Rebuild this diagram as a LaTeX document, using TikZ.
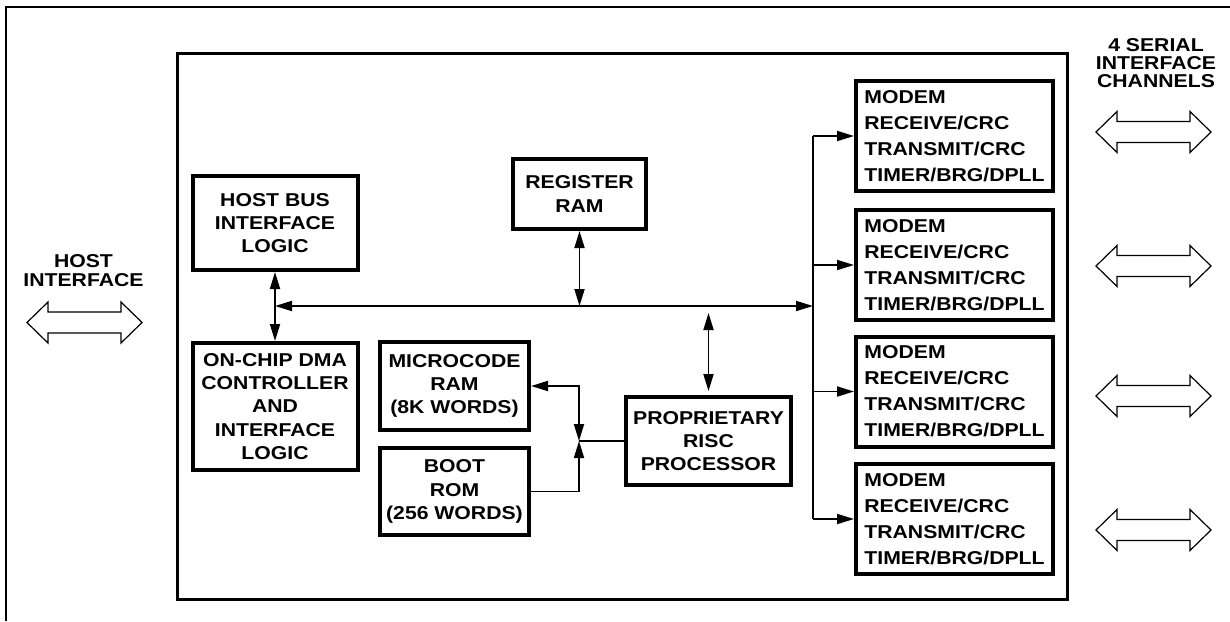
\documentclass[tikz,border=0pt]{standalone}
\usepackage{fontspec}
\setmainfont{Liberation Sans}[FakeStretch=1.14]
\usetikzlibrary{arrows.meta,calc}
\begin{document}
\begin{tikzpicture}[x=0.5pt,y=-0.5pt,
  >={Triangle[length=8.5pt,width=5pt]},
  blk/.style={draw, line width=2pt, inner sep=0pt, align=center,
    font=\fontsize{9.3}{11.6}\selectfont\bfseries},
  mdm/.style={blk, align=left, minimum width=98.5pt, minimum height=55pt,
    font=\fontsize{9.3}{13}\selectfont\bfseries},
  lbl/.style={inner sep=0pt, align=center, font=\fontsize{9.3}{9.2}\selectfont\bfseries},
  conn/.style={line width=0.9pt},
  harrow/.pic={\draw[line width=0.6pt] (-57.5,0) -- ++(21,-20.5) -- ++(0,10) -- ++(73,0) -- ++(0,-10) -- ++(21,20.5) -- ++(-21,20.5) -- ++(0,-10) -- ++(-73,0) -- ++(0,10) -- cycle;}
]
\useasboundingbox (0,0) rectangle (1230,621);
% outer frame
\draw[line width=1pt] (6,621) -- (6,7) -- (1230,7);
% chip
\draw[line width=1.5pt] (177.5,53.5) rectangle (1067.5,599.5);

% blocks
\node[blk, minimum width=82.5pt, minimum height=47pt] (hbil) at (275,223) {HOST BUS\\INTERFACE\\LOGIC};
\node[blk, minimum width=82.5pt, minimum height=63.5pt] (dma) at (275,406.5) {ON-CHIP DMA\\CONTROLLER\\AND\\INTERFACE\\LOGIC};
\node[blk, minimum width=66.5pt, minimum height=35pt] (reg) at (579.5,194) {REGISTER\\RAM};
\node[blk, minimum width=74.5pt, minimum height=44pt] (micro) at (454.5,386) {MICROCODE\\RAM\\(8K WORDS)};
\node[blk, minimum width=74.5pt, minimum height=43.5pt] (boot) at (454.5,491.5) {BOOT\\ROM\\(256 WORDS)};
\node[blk, minimum width=82.5pt, minimum height=44pt] (proc) at (708.5,441) {PROPRIETARY\\RISC\\PROCESSOR};

\node[mdm] (m1) at (954.5,136) {MODEM\\RECEIVE/CRC\\TRANSMIT/CRC\\TIMER/BRG/DPLL};
\node[mdm] (m2) at (954.5,265) {MODEM\\RECEIVE/CRC\\TRANSMIT/CRC\\TIMER/BRG/DPLL};
\node[mdm] (m3) at (954.5,391.5) {MODEM\\RECEIVE/CRC\\TRANSMIT/CRC\\TIMER/BRG/DPLL};
\node[mdm] (m4) at (954.5,519) {MODEM\\RECEIVE/CRC\\TRANSMIT/CRC\\TIMER/BRG/DPLL};

% labels
\node[lbl] (hostlbl) at (83.5,270.5) {HOST\\INTERFACE};
\node[lbl] (serlbl) at (1156,63) {4 SERIAL\\INTERFACE\\CHANNELS};

% hollow double arrows
\pic at (84.5,322.5) {harrow};
\pic at (1153.5,132) {harrow};
\pic at (1153.5,266) {harrow};
\pic at (1153.5,396) {harrow};
\pic at (1153.5,530) {harrow};

% connectors
\coordinate (busL) at (275,306);
\coordinate (busR) at (813,306);
\coordinate (J) at (579,441);
\draw[conn,<->] (hbil.south) -- (dma.north);
\draw[conn,<->] (busR) -- (busL);
\draw[conn,<->] (reg.south) -- (reg.south |- busL);
\draw[conn,<->] ($(proc.north)+(0,-4)$) -- ($(proc.north |- busL)+(0,7)$);
\draw[conn] (m1.west -| busR) -- (m4.west -| busR);
\draw[conn,->] (m1.west -| busR) -- (m1.west);
\draw[conn,->] (m2.west -| busR) -- (m2.west);
\draw[conn,->] (m3.west -| busR) -- (m3.west);
\draw[conn,->] (m4.west -| busR) -- (m4.west);
\draw[conn] (proc.west) -- (J);
\draw[conn,<->] (micro.east) -| (J);
\draw[conn,->] (boot.east) -| (J);
\end{tikzpicture}
\end{document}
